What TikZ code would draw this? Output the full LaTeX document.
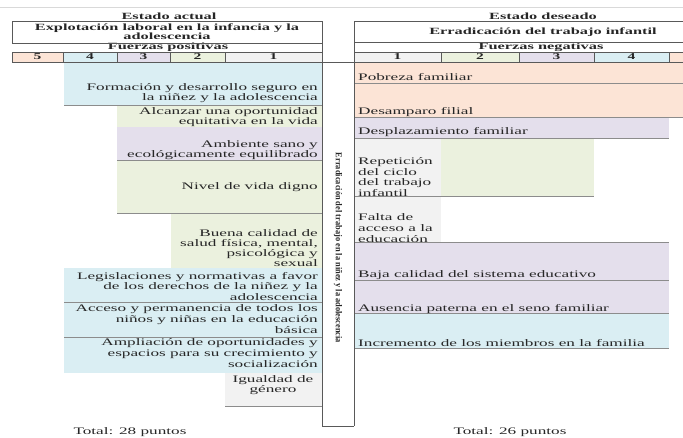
\documentclass[tikz,border=0pt]{standalone}
\usepackage{fontspec}
\setmainfont[FakeStretch=1.72]{Liberation Serif}
\newfontfamily\angosta[FakeStretch=0.93]{Liberation Serif}
\usetikzlibrary{positioning}

\definecolor{naranja}{HTML}{FCE4D6}
\definecolor{azul}{HTML}{DAEEF3}
\definecolor{lila}{HTML}{E4DFEC}
\definecolor{verde}{HTML}{EBF1DE}
\definecolor{gris}{HTML}{F2F2F2}

\begin{document}
\begin{tikzpicture}[x=1pt, y=-1pt, font=\fontsize{10}{10.7}\selectfont, text=black!85]
\useasboundingbox (0,0) rectangle (683,437);

    \tikzstyle{izq}=[anchor=east, align=right, inner sep=0pt];
    \tikzstyle{der}=[anchor=west, align=left, inner sep=0pt];
    \tikzstyle{titulo}=[font=\fontsize{9.5}{9.3}\selectfont\bfseries, inner sep=0pt];
    \tikzstyle{borde}=[draw=black!65, line width=0.9pt];
    \tikzstyle{base}=[draw=black!45, line width=0.6pt];

\draw[black!15] (0,7) -- (683,7);

% Encabezados
\node[titulo] (actual) at (169,16) {Estado actual};
\node[titulo] (deseado) at (543,16) {Estado deseado};
\node[titulo, align=center] (explot) at (167,32) {Explotación laboral en la infancia y la\\ adolescencia};
\node[titulo] (errad) at (543,32) {Erradicación del trabajo infantil};
\node[titulo] (fpos) at (168,47.5) {Fuerzas positivas};
\node[titulo] (fneg) at (541,47.5) {Fuerzas negativas};

% Puntajes
\foreach \a/\b/\c/\n in {12/63/naranja/5, 63/117/azul/4, 117/170/lila/3, 170/225/verde/2, 225/322/gris/1}
  { \fill[\c] (\a,52) rectangle (\b,62);
    \node[font=\bfseries\small, inner sep=0pt] (pi\n) at ({(\a+\b)/2},57) {\n}; }
\foreach \a/\b/\c/\n in {354/441/gris/1, 441/519/verde/2, 519/594/lila/3, 594/669/azul/4}
  { \fill[\c] (\a,52) rectangle (\b,62);
    \node[font=\bfseries\small, inner sep=0pt] (pd\n) at ({(\a+\b)/2},57) {\n}; }
\fill[naranja] (669,52) rectangle (683,62);

% Fuerzas positivas
\fill[azul] (64,62) rectangle (322,105);
\fill[verde] (117,105) rectangle (322,127);
\fill[lila] (117,127) rectangle (322,160);
\fill[verde] (117,160) rectangle (322,213);
\fill[verde] (171,213) rectangle (322,268);
\fill[azul] (64,268) rectangle (322,373);
\fill[gris] (225,373) rectangle (322,406);
\foreach \y/\a in {105/64, 160/117, 213/117, 302/64, 337/64, 406/225}
  \draw[base] (\a,\y) -- (322,\y);

\node[izq] (formacion) at (318,93) {Formación y desarrollo seguro en\\ la niñez y la adolescencia};
\node[izq] (alcanzar) at (318,117) {Alcanzar una oportunidad\\ equitativa en la vida};
\node[izq] (ambiente) at (318,150) {Ambiente sano y\\ ecológicamente equilibrado};
\node[izq] (nivel) at (318,187) {Nivel de vida digno};
\node[izq, font=\fontsize{10}{10.2}\selectfont] (salud) at (318,248) {Buena calidad de\\ salud física, mental,\\ psicológica y\\ sexual};
\node[izq] (leyes) at (318,286.5) {Legislaciones y normativas a favor\\ de los derechos de la niñez y la\\ adolescencia};
\node[izq] (acceso) at (318,319) {Acceso y permanencia de todos los\\ niños y niñas en la educación\\ básica};
\node[izq] (ampliacion) at (318,353) {Ampliación de oportunidades y\\ espacios para su crecimiento y\\ socialización};
\node[align=center, inner sep=0pt] (igualdad) at (273,385) {Igualdad de\\ género};

% Fuerzas negativas
\fill[naranja] (354,62) rectangle (683,117);
\fill[lila] (354,117) rectangle (669,138);
\fill[gris] (354,138) rectangle (441,242);
\fill[verde] (441,138) rectangle (594,196);
\fill[lila] (354,242) rectangle (669,313);
\fill[azul] (354,313) rectangle (669,348);
\draw[base] (354,83) -- (683,83);
\draw[base] (354,117) -- (683,117);
\foreach \y/\b in {138/669, 196/594, 242/669, 280/669, 313/669, 348/669}
  \draw[base] (354,\y) -- (\b,\y);

\node[der] (pobreza) at (358,77) {Pobreza familiar};
\node[der] (desamparo) at (358,112) {Desamparo filial};
\node[der] (desplaz) at (358,132) {Desplazamiento familiar};
\node[der] (repeticion) at (358,177) {Repetición\\ del ciclo\\ del trabajo\\ infantil};
\node[der] (falta) at (358,228) {Falta de\\ acceso a la\\ educación};
\node[der] (baja) at (358,275) {Baja calidad del sistema educativo};
\node[der] (ausencia) at (358,309) {Ausencia paterna en el seno familiar};
\node[der] (incremento) at (358,343) {Incremento de los miembros en la familia};

% Marcos
\draw[borde] (12,21) rectangle (322,43);
\draw[borde] (12,52) rectangle (322,62);
\foreach \x in {63,117,170,225} \draw[borde] (\x,52) -- (\x,62);
\draw[borde] (683,21) -- (354,21) -- (354,426);
\draw[borde] (354,42) -- (683,42);
\draw[borde] (354,52) -- (683,52);
\draw[borde] (354,62) -- (683,62);
\foreach \x in {441,519,594,669} \draw[borde] (\x,52) -- (\x,62);
\draw[borde] (322,43) -- (322,426) -- (354,426);
\draw[borde] (322,62) -- (354,62);

\node[rotate=-90, font=\angosta\fontsize{9}{10}\selectfont\bfseries] (centro) at (338,248) {Erradicación del trabajo en la niñez y la adolescencia};

% Totales
\node (total28) at (130,432) {Total: 28 puntos};
\node (total26) at (510,432) {Total: 26 puntos};
\end{tikzpicture}
\end{document}
